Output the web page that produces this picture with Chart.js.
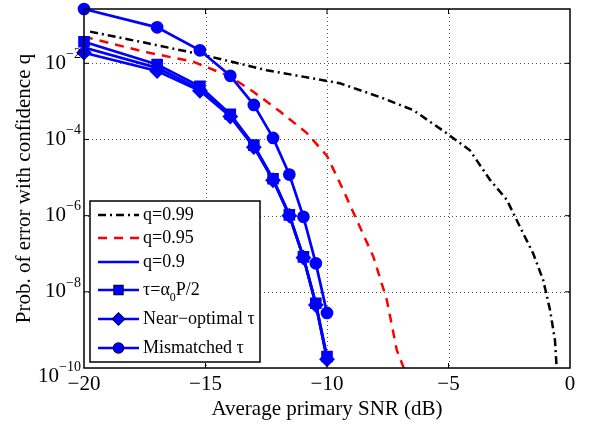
<!DOCTYPE html>
<html>
<head>
<meta charset="utf-8">
<script src="https://cdn.jsdelivr.net/npm/chart.js@4.4.0/dist/chart.umd.min.js"></script>
<style>
html, body { margin: 0; padding: 0; background: #fff; }
</style>
</head>
<body>
<canvas id="chart" width="589" height="425"></canvas>
<script>
// simulated SNR points (dB)
const snrSim = [-20, -16.99, -15.23, -13.98, -13.01, -12.22, -11.55, -10.97, -10.46, -10];
const q90 = [2.6e-2, 7.6e-3, 2.1e-3, 4.3e-4, 6.8e-5, 8.9e-6, 1.02e-6, 8.1e-8, 4.8e-9, 1.8e-10];
const tauHalf = [3.7e-2, 9.3e-3, 2.5e-3, 4.6e-4, 7.1e-5, 9.3e-6, 1.05e-6, 8.3e-8, 5.0e-9, 2.0e-10];
const nearOpt = [1.9e-2, 6.3e-3, 1.9e-3, 4.0e-4, 6.3e-5, 8.5e-6, 1.0e-6, 7.9e-8, 4.5e-9, 1.7e-10];
const mismatched = [2.67e-1, 8.8e-2, 2.2e-2, 4.7e-3, 8.1e-4, 1.1e-4, 1.2e-5, 9.3e-7, 5.6e-8, 2.8e-9];

// analytical curves
const q95Snr = [-20, -17.42, -15.5, -13.99, -13.03, -11.93, -10.84, -10.0, -9.33, -8.78, -8.09, -7.54, -7.13, -6.86, -6.7];
const q95 = [5.0e-2, 1.95e-2, 1.1e-2, 4.5e-3, 1.8e-3, 5.4e-4, 1.5e-4, 3.7e-5, 4.7e-6, 7.8e-7, 8.3e-8, 6.2e-9, 3.0e-10, 1.07e-10, 5e-11];
const q99Snr = [-19.75, -17.42, -15.09, -12.48, -9.47, -7.82, -6.45, -5.07, -4.12, -3.29, -2.6, -2.06, -1.51, -1.1, -0.82, -0.62, -0.55, -0.5];
const q99 = [6.8e-2, 3.4e-2, 1.66e-2, 6.6e-3, 3.0e-3, 1.3e-3, 5.9e-4, 1.45e-4, 5.2e-5, 8.7e-6, 2.6e-6, 5.1e-7, 1.0e-7, 2.0e-8, 3.3e-9, 5.4e-10, 1.07e-10, 4e-11];

const xTicks = [-20, -15, -10, -5, 0];
const xTickLabels = ['\u221220', '\u221215', '\u221210', '\u22125', '0'];
const yTicks = [1e-10, 1e-8, 1e-6, 1e-4, 1e-2];
const yTickExps = ['\u221210', '\u22128', '\u22126', '\u22124', '\u22122'];

const serif = '"Liberation Serif", "DejaVu Serif", serif';
const blue = '#0000ff';

function pts(xs, ys) {
    return xs.map((v, i) => ({x: v, y: ys[i]}));
}

const datasets = [
    {
        label: 'q=0.99', data: pts(q99Snr, q99),
        borderColor: '#000', borderWidth: 2.5, borderDash: [8, 4, 2, 4],
        pointRadius: 0, clip: 0, order: 6
    },
    {
        label: 'q=0.95', data: pts(q95Snr, q95),
        borderColor: '#ff0000', borderWidth: 2.5, borderDash: [9, 7],
        pointRadius: 0, clip: 0, order: 5
    },
    {
        label: 'q=0.9', data: pts(snrSim, q90),
        borderColor: blue, borderWidth: 2.7,
        pointRadius: 0, clip: 8, order: 4
    },
    {
        label: 'tau', data: pts(snrSim, tauHalf),
        borderColor: blue, borderWidth: 2.7,
        pointStyle: 'rect', pointRadius: 6.3, pointBackgroundColor: blue, pointBorderColor: blue,
        clip: 8, order: 3
    },
    {
        label: 'Near\u2212optimal \u03c4', data: pts(snrSim, nearOpt),
        borderColor: blue, borderWidth: 2.7,
        pointStyle: 'rectRot', pointRadius: 6, pointBackgroundColor: blue, pointBorderColor: blue,
        clip: 8, order: 2
    },
    {
        label: 'Mismatched \u03c4', data: pts(snrSim, mismatched),
        borderColor: blue, borderWidth: 2.7,
        pointStyle: 'circle', pointRadius: 5, pointBackgroundColor: blue, pointBorderColor: blue,
        clip: 8, order: 1
    }
];

// legend text pieces, tau entry has a subscript
const legendText = [
    [{t: 'q=0.99'}],
    [{t: 'q=0.95'}],
    [{t: 'q=0.9'}],
    [{t: '\u03c4=\u03b1'}, {t: '0', sub: true}, {t: 'P/2'}],
    [{t: 'Near\u2212optimal \u03c4'}],
    [{t: 'Mismatched \u03c4'}]
];
const legendRowY = [215, 238, 262, 290, 319, 348];

function hline(ctx, x1, y1, x2, y2) {
    ctx.beginPath();
    ctx.moveTo(x1, y1);
    ctx.lineTo(x2, y2);
    ctx.stroke();
}

const decorPlugin = {
    id: 'decor',
    beforeDatasetsDraw(chart) {
        const {ctx, chartArea: a, scales: {x, y}} = chart;
        ctx.save();
        ctx.strokeStyle = '#555';
        ctx.lineWidth = 1;
        ctx.setLineDash([1, 3]);
        xTicks.slice(1, -1).forEach(v => {
            const px = Math.round(x.getPixelForValue(v)) + 0.5;
            hline(ctx, px, a.top, px, a.bottom);
        });
        yTicks.slice(1).forEach(v => {
            const py = Math.round(y.getPixelForValue(v)) + 0.5;
            hline(ctx, a.left, py, a.right, py);
        });
        ctx.restore();
    },
    afterDatasetsDraw(chart) {
        const {ctx, chartArea: a, scales: {x, y}} = chart;
        ctx.save();
        // axes box and ticks
        ctx.strokeStyle = '#000';
        ctx.lineWidth = 1.5;
        ctx.setLineDash([]);
        ctx.strokeRect(a.left, a.top, a.right - a.left, a.bottom - a.top);
        ctx.lineWidth = 1;
        xTicks.slice(1, -1).forEach(v => {
            const px = x.getPixelForValue(v);
            hline(ctx, px, a.bottom, px, a.bottom - 5);
            hline(ctx, px, a.top, px, a.top + 5);
        });
        yTicks.slice(1).forEach(v => {
            const py = y.getPixelForValue(v);
            hline(ctx, a.left, py, a.left + 5, py);
            hline(ctx, a.right, py, a.right - 5, py);
        });

        // tick labels
        ctx.fillStyle = '#000';
        ctx.font = '21px ' + serif;
        ctx.textAlign = 'center';
        ctx.textBaseline = 'middle';
        xTicks.forEach((v, i) => {
            ctx.fillText(xTickLabels[i], x.getPixelForValue(v), a.bottom + 16);
        });
        ctx.textAlign = 'left';
        yTicks.forEach((v, i) => {
            let py = y.getPixelForValue(v);
            if (i === 0) py += 8;
            ctx.font = '14px ' + serif;
            const we = ctx.measureText(yTickExps[i]).width;
            ctx.font = '21px ' + serif;
            const wb = ctx.measureText('10').width;
            const x0 = a.left - 3 - we - wb;
            ctx.fillText('10', x0, py);
            ctx.font = '14px ' + serif;
            ctx.fillText(yTickExps[i], x0 + wb, py - 9);
        });

        // axis titles
        ctx.font = '21px ' + serif;
        ctx.textAlign = 'center';
        ctx.fillText('Average primary SNR (dB)', (a.left + a.right) / 2, 409);
        ctx.save();
        ctx.translate(24, (a.top + a.bottom) / 2);
        ctx.rotate(-Math.PI / 2);
        ctx.fillText('Prob. of error with confidence q', 0, 0);
        ctx.restore();

        // legend box
        const bx = 90, by = 201, bw = 170, bh = 161;
        ctx.fillStyle = '#fff';
        ctx.fillRect(bx, by, bw, bh);
        ctx.lineWidth = 1.5;
        ctx.strokeStyle = '#000';
        ctx.strokeRect(bx, by, bw, bh);
        chart.data.datasets.forEach((ds, i) => {
            const ly = legendRowY[i];
            ctx.save();
            ctx.strokeStyle = ds.borderColor;
            ctx.lineWidth = ds.borderWidth;
            ctx.setLineDash(ds.borderDash || []);
            hline(ctx, 98, ly, 139, ly);
            ctx.restore();
            if (ds.pointRadius > 0) {
                Chart.helpers.drawPoint(ctx, {
                    pointStyle: ds.pointStyle, radius: ds.pointRadius, rotation: 0, borderWidth: 1
                }, 118.5, ly);
                ctx.fillStyle = ds.pointBackgroundColor;
                ctx.fill();
            }
            // text
            ctx.fillStyle = '#000';
            ctx.textAlign = 'left';
            ctx.textBaseline = 'middle';
            let tx = 143;
            legendText[i].forEach(p => {
                ctx.font = (p.sub ? '12px ' : '18px ') + serif;
                ctx.fillText(p.t, tx, p.sub ? ly + 8 : ly);
                tx += ctx.measureText(p.t).width;
            });
        });
        ctx.restore();
    }
};

new Chart(document.getElementById('chart'), {
    type: 'line',
    data: {datasets: datasets},
    plugins: [decorPlugin],
    options: {
        responsive: false,
        animation: false,
        devicePixelRatio: 1,
        layout: {padding: {top: 9, right: 19, left: 0, bottom: 0}},
        plugins: {legend: {display: false}, tooltip: {enabled: false}},
        elements: {line: {tension: 0}},
        scales: {
            x: {
                type: 'linear', min: -20, max: 0,
                afterBuildTicks: scale => { scale.ticks = xTicks.map(v => ({value: v})); },
                afterFit: scale => { scale.height = 57; },
                ticks: {display: false},
                grid: {display: false},
                border: {display: false}
            },
            y: {
                type: 'logarithmic', min: 1e-10, max: 0.267,
                afterBuildTicks: scale => { scale.ticks = yTicks.map(v => ({value: v})); },
                afterFit: scale => { scale.width = 84; },
                ticks: {display: false},
                grid: {display: false},
                border: {display: false}
            }
        }
    }
});
</script>
</body>
</html>
